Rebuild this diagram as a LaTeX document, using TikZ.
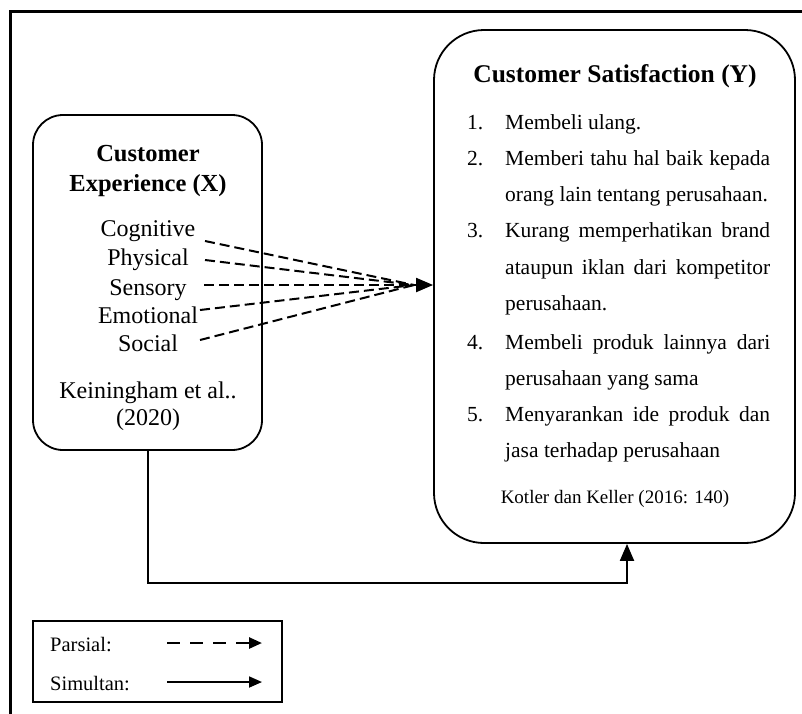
\documentclass[tikz,border=0pt]{standalone}
\usepackage{fontspec}
\setmainfont{Liberation Serif}
\usetikzlibrary{arrows.meta}
\begin{document}
\begin{tikzpicture}[x=1pt,y=-1pt,
  frameline/.style={line width=3pt},
  roundbox/.style={draw, line width=1.8pt, inner sep=0pt},
  txt/.style={inner sep=0pt, text height=1.6ex, text depth=0.45ex, yshift=-5.5pt},
  ttl/.style={txt, font=\fontsize{24.5}{28}\selectfont\bfseries},
  itemX/.style={txt, font=\fontsize{24}{28}\selectfont},
  itemY/.style={txt, anchor=west, font=\fontsize{21.5}{26}\selectfont},
  srcY/.style={txt, font=\fontsize{19}{22}\selectfont},
  legtxt/.style={txt, anchor=west, font=\fontsize{20.5}{24}\selectfont},
  dashline/.style={line width=2pt, dash pattern=on 10pt off 5pt},
  legdash/.style={line width=2.6pt, dash pattern=on 12.5pt off 10.5pt},
  link/.style={line width=2pt},
  tipbig/.style={-{Triangle[length=17pt,width=14pt]}},
  tipsmall/.style={-{Triangle[length=13pt,width=11pt]}},
]
\clip (0,0) rectangle (802,713);
\fill[white] (0,0) rectangle (802,713);
% outer frame
\draw[frameline] (10,730) -- (10,11) -- (815,11);

% boxes
\node[roundbox, rounded corners=30pt, minimum width=229pt, minimum height=335pt] (X) at (147.5,282.5) {};
\node[roundbox, rounded corners=50pt, minimum width=361pt, minimum height=513pt] (Y) at (614.5,286.5) {};

% left box texts
\node[ttl] (xt1) at (148,153) {Customer};
\node[ttl] (xt2) at (148,183) {Experience (X)};
\node[itemX] (cog) at (148,228) {Cognitive};
\node[itemX] (phy) at (148,257) {Physical};
\node[itemX] (sen) at (148,287) {Sensory};
\node[itemX] (emo) at (148,315) {Emotional};
\node[itemX] (soc) at (148,343) {Social};
\node[itemX] (kei) at (148,390) {Keiningham et al..};
\node[itemX] (kyr) at (148,417) {(2020)};

% right box texts
\node[ttl, font=\fontsize{25.5}{29}\selectfont\bfseries] (yt) at (615,74) {Customer Satisfaction (Y)};
\node[itemY] (n1) at (467,121) {1.};
\node[itemY] (n2) at (467,157) {2.};
\node[itemY] (n3) at (467,229) {3.};
\node[itemY] (n4) at (467,341) {4.};
\node[itemY] (n5) at (467,413) {5.};
\node[itemY] (l1) at (505,121) {Membeli ulang.};
\node[itemY] (l2) at (505,157) {\makebox[265pt][s]{Memberi tahu hal baik kepada}};
\node[itemY] (l3) at (505,193) {orang lain tentang perusahaan.};
\node[itemY] (l4) at (505,229) {\makebox[265pt][s]{Kurang memperhatikan brand}};
\node[itemY] (l5) at (505,266) {\makebox[265pt][s]{ataupun iklan dari kompetitor}};
\node[itemY] (l6) at (505,302) {perusahaan.};
\node[itemY] (l7) at (505,341) {\makebox[265pt][s]{Membeli produk lainnya dari}};
\node[itemY] (l8) at (505,377) {perusahaan yang sama};
\node[itemY] (l9) at (505,413) {\makebox[265pt][s]{Menyarankan ide produk dan}};
\node[itemY] (l10) at (505,449) {jasa terhadap perusahaan};
\node[srcY] (src) at (615,495) {Kotler dan Keller (2016: 140)};

% partial (dashed) connectors
\coordinate (s1) at (205,241);
\coordinate (s2) at (205,260);
\coordinate (s3) at (204,285);
\coordinate (s4) at (200,310);
\coordinate (s5) at (200,340);
\coordinate (conv) at (414,285);
\draw[dashline] (s1) -- (conv);
\draw[dashline] (s2) -- (conv);
\draw[dashline, line width=2.6pt] (s3) -- (conv);
\draw[dashline] (s4) -- (conv);
\draw[dashline] (s5) -- (conv);
\draw[link, tipbig] (conv) -- (conv -| Y.west);

% simultaneous connector
\coordinate (turn) at (627,583);
\draw[link, tipbig] (X.south) |- (turn) -- (turn |- Y.south);

% legend
\node[draw, line width=1.5pt, minimum width=249pt, minimum height=81pt, inner sep=0pt] (L) at (157.5,661.5) {};
\node[legtxt] (lp) at (50,643) {Parsial:};
\node[legtxt] (ls) at (50,682) {Simultan:};
\coordinate (pa) at (167,643);
\coordinate (pb) at (262,643);
\coordinate (sa) at (167,682);
\coordinate (sb) at (262,682);
\draw[legdash, tipsmall] (pa) -- (pb);
\draw[link, line width=1.8pt, tipsmall] (sa) -- (sb);
\end{tikzpicture}
\end{document}
